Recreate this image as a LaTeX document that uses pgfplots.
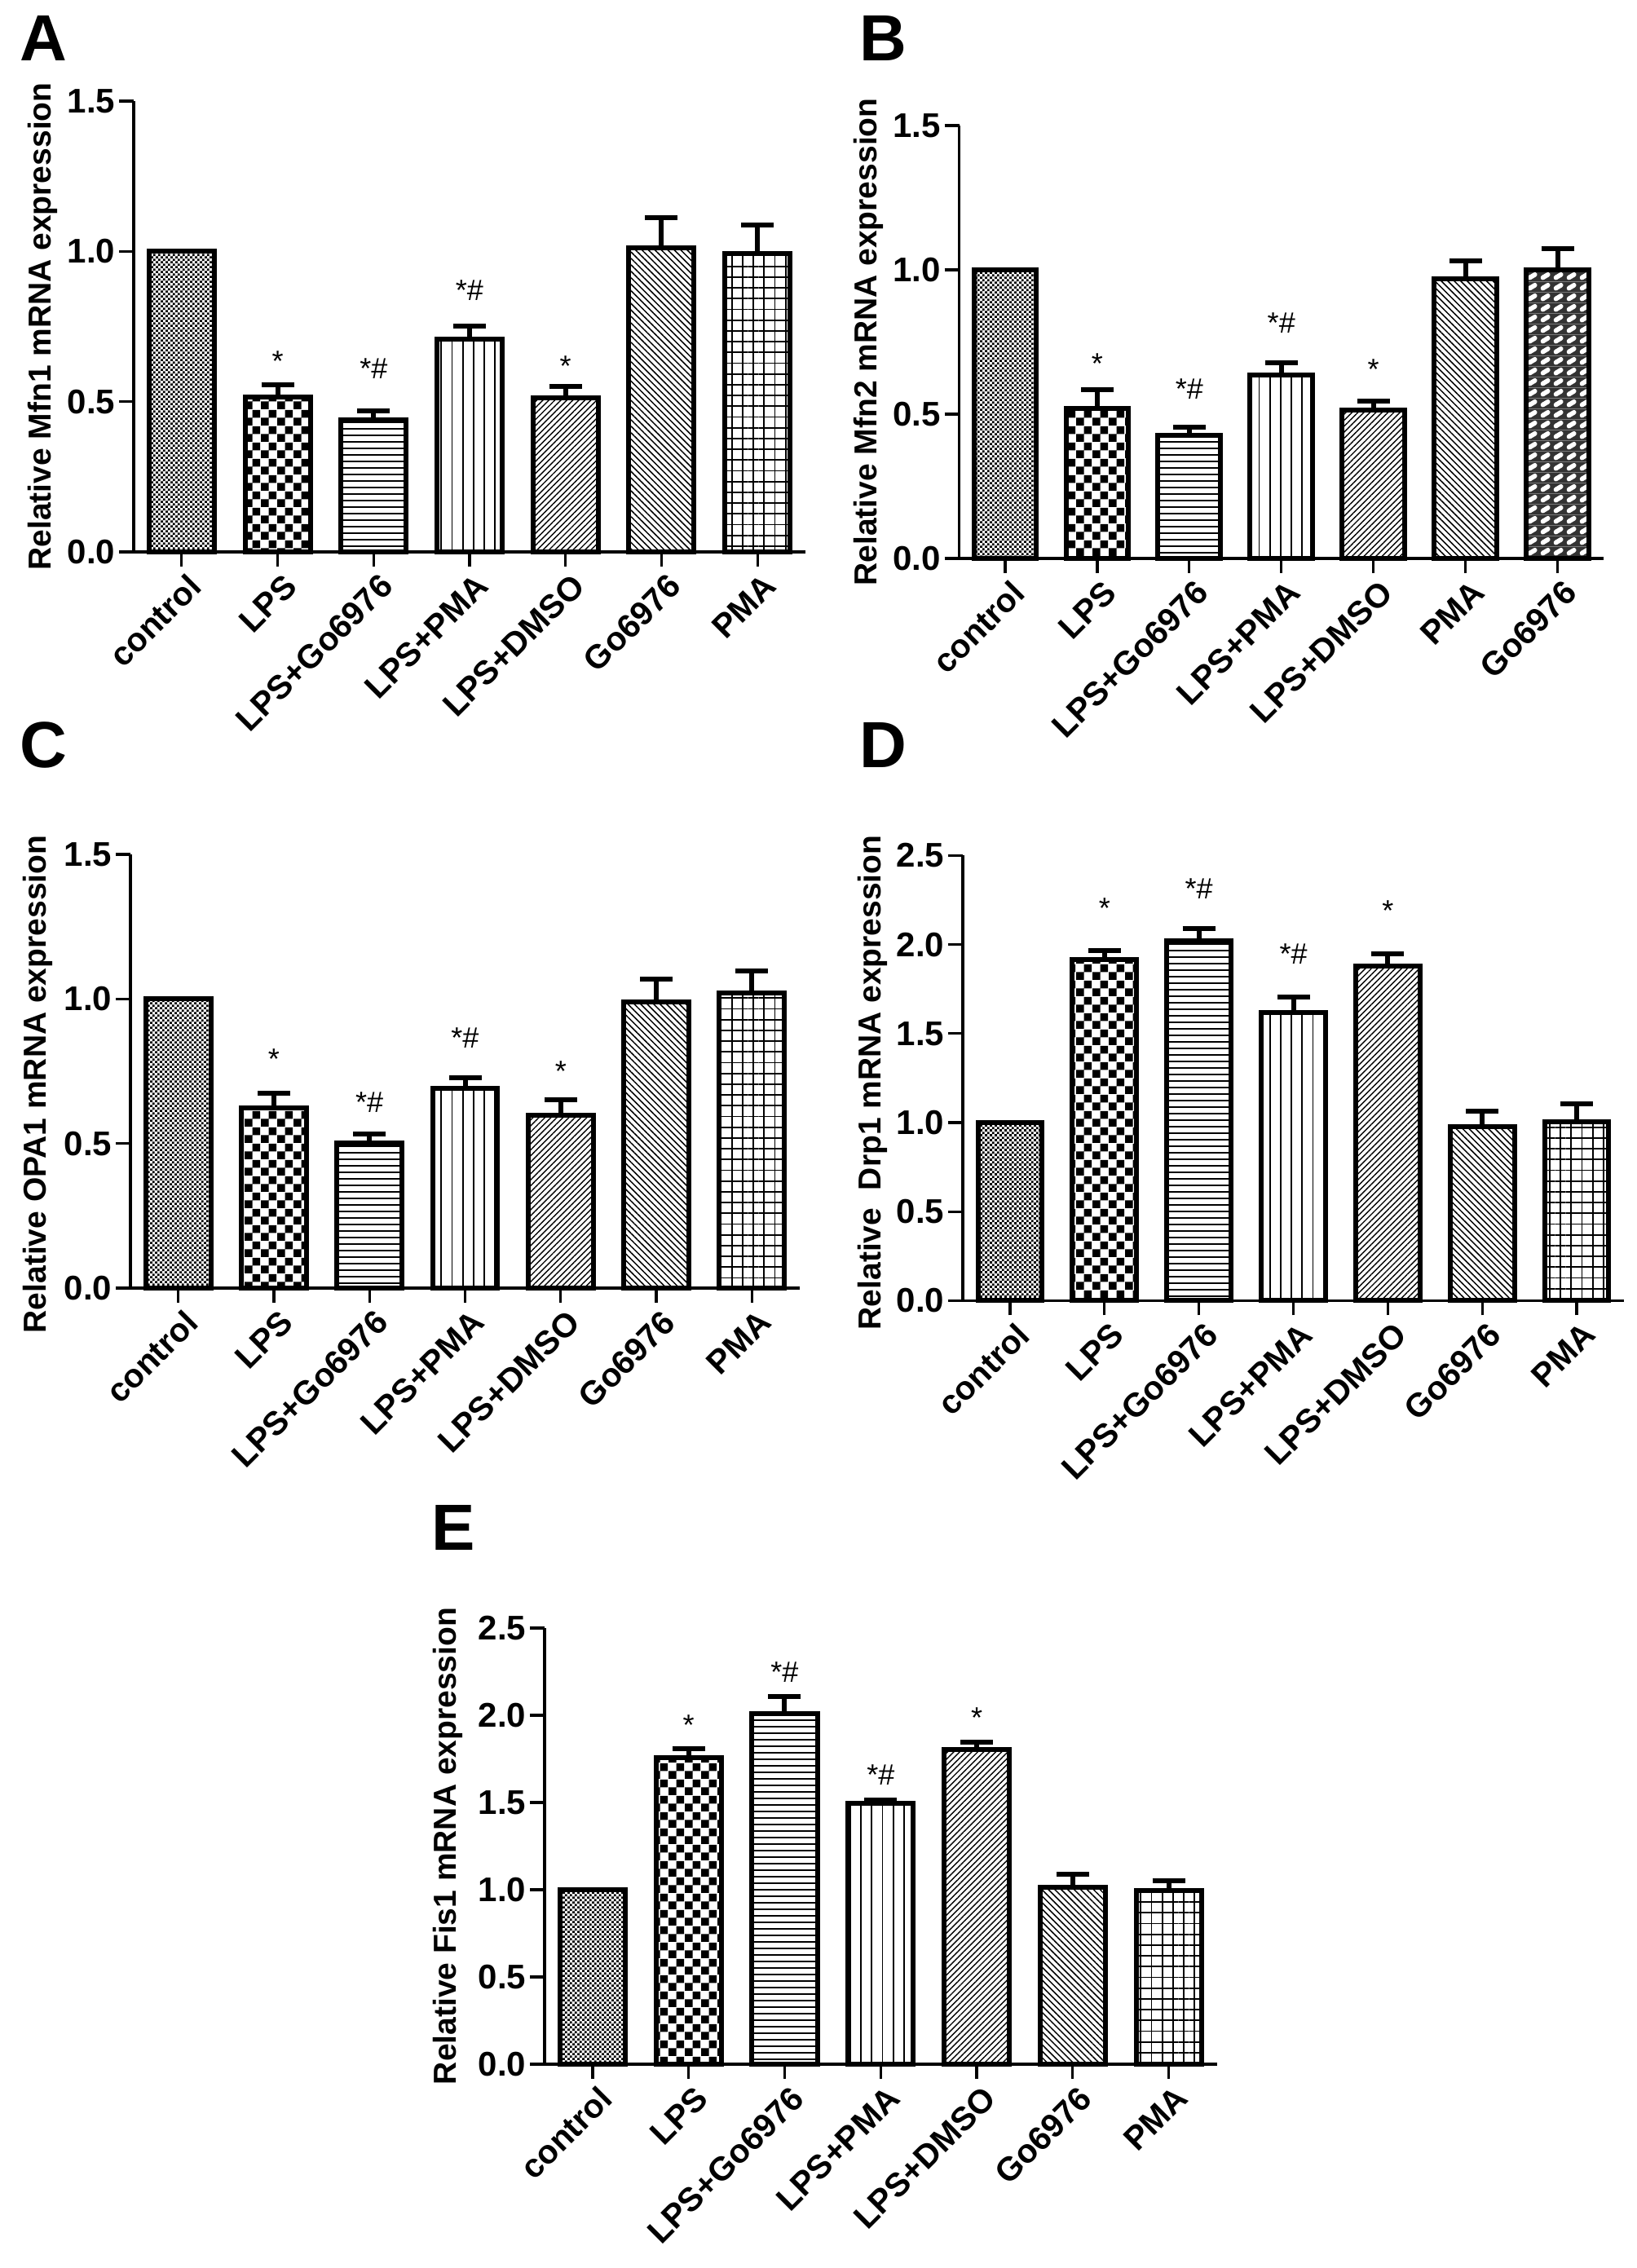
\documentclass[border=0pt]{standalone}
\usepackage{fontspec}
\setmainfont{Liberation Sans}
\usepackage{pgfplots}
\pgfplotsset{compat=1.18}
\usetikzlibrary{patterns,patterns.meta}

\pgfdeclarepatternformonly{finechecker}{\pgfqpoint{0pt}{0pt}}{\pgfqpoint{1.6pt}{1.6pt}}{\pgfqpoint{1.6pt}{1.6pt}}{%
  \pgfpathrectangle{\pgfqpoint{0pt}{0pt}}{\pgfqpoint{0.75pt}{0.75pt}}%
  \pgfpathrectangle{\pgfqpoint{0.8pt}{0.8pt}}{\pgfqpoint{0.75pt}{0.75pt}}%
  \pgfusepath{fill}}
\pgfdeclarepatternformonly{bigchecker}{\pgfqpoint{0pt}{0pt}}{\pgfqpoint{5pt}{5pt}}{\pgfqpoint{5pt}{5pt}}{%
  \pgfpathrectangle{\pgfqpoint{0pt}{0pt}}{\pgfqpoint{2.5pt}{2.5pt}}%
  \pgfpathrectangle{\pgfqpoint{2.5pt}{2.5pt}}{\pgfqpoint{2.5pt}{2.5pt}}%
  \pgfusepath{fill}}
\pgfdeclarepatterninherentlycolored{ovaldash}{\pgfqpoint{0pt}{0pt}}{\pgfqpoint{4pt}{3.2pt}}{\pgfqpoint{4pt}{3.2pt}}{%
  \pgfsetfillcolor{black!80}%
  \pgfpathrectangle{\pgfqpoint{0pt}{0pt}}{\pgfqpoint{4pt}{3.2pt}}\pgfusepath{fill}%
  \pgfsetstrokecolor{white}\pgfsetlinewidth{1.45pt}\pgfsetroundcap
  \pgfpathmoveto{\pgfqpoint{1.17pt}{1.12pt}}\pgfpathlineto{\pgfqpoint{2.83pt}{2.08pt}}\pgfusepath{stroke}}

\tikzset{
  anno/.style={font=\fontsize{9}{10}\selectfont, anchor=base, inner sep=0pt},
  plab/.style={font=\bfseries\fontsize{20}{22}\selectfont, anchor=center},
}
\pgfplotsset{
  panel/.style={
    scale only axis, clip=false,
    axis x line*=bottom, axis y line*=left,
    xmin=-0.5, xmax=6.5, ymin=0,
    xtick={0,...,6},
    tick align=outside, major tick length=4.5pt,
    every tick/.style={black, line width=0.8pt},
    axis line style={line width=0.8pt, black},
    xticklabel style={font=\bfseries\fontsize{10.2}{12}\selectfont, rotate=45, anchor=north east, inner sep=0.5pt, yshift=-1.5pt, xshift=0.5pt},
    yticklabel style={font=\bfseries\fontsize{10.5}{12}\selectfont, inner sep=1pt,
      /pgf/number format/.cd, fixed, fixed zerofill, precision=1, assume math mode=true},
    ylabel style={font=\bfseries\fontsize{9.75}{11}\selectfont, anchor=center},
  },
  pat0/.style={pattern=finechecker},
  pat1/.style={pattern=bigchecker},
  pat2/.style={pattern={Lines[angle=0,distance=2pt,line width=0.4pt]}},
  pat3/.style={pattern={Lines[angle=90,distance=3.3pt,line width=0.45pt]}},
  pat4/.style={pattern={Lines[angle=45,distance=1.3pt,line width=0.35pt]}},
  pat5/.style={pattern={Lines[angle=-45,distance=1.4pt,line width=0.38pt]}},
  pat6/.style={pattern={Hatch[angle=0,distance=3.3pt,line width=0.45pt]}},
  pat7/.style={pattern=ovaldash},
}
\newcommand{\ebar}[4]{\addplot[ybar, bar width=0.68, bar shift=0pt, draw=black, line width=1.5pt, #1,
   error bars/.cd, y dir=plus, y explicit, error bar style={line width=1.5pt},
   error mark options={rotate=90, mark size=5pt, line width=1.5pt}] coordinates {(#2,#3) +- (0,#4)};}
\newcommand{\cbar}[2]{\addplot[ybar, bar width=0.68, bar shift=0pt, draw=black, line width=1.5pt, #1] coordinates {(0,#2)};}

\begin{document}
\begin{tikzpicture}
\useasboundingbox (0,0) rectangle (502pt,-695.5pt);

\node[plab] at (13.25pt,-11.75pt) {A};
\node[plab] at (270.75pt,-11.75pt) {B};
\node[plab] at (13.25pt,-228.5pt) {C};
\node[plab] at (270.75pt,-228.5pt) {D};
\node[plab] at (139pt,-468.5pt) {E};

% ---------- A ----------
\begin{axis}[panel, at={(41pt,-169.25pt)}, anchor=south west, width=206pt, height=138.25pt,
  ymax=1.5, ytick={0,0.5,1,1.5},
  xticklabels={control,LPS,LPS+Go6976,LPS+PMA,LPS+DMSO,Go6976,PMA},
  ylabel={Relative Mfn1 mRNA expression},
  ylabel style={at={(axis description cs:-0.135,0.5)}}]
\cbar{pat0}{1.0}
\ebar{pat1}{1}{0.515}{0.040}
\ebar{pat2}{2}{0.440}{0.030}
\ebar{pat3}{3}{0.707}{0.044}
\ebar{pat4}{4}{0.512}{0.038}
\ebar{pat5}{5}{1.013}{0.100}
\ebar{pat6}{6}{0.994}{0.093}
\node[anno] at (axis cs:1,0.602) {*};
\node[anno] at (axis cs:2,0.577) {*\#};
\node[anno] at (axis cs:3,0.837) {*\#};
\node[anno] at (axis cs:4,0.585) {*};
\end{axis}

% ---------- B ----------
\begin{axis}[panel, at={(294.125pt,-171.25pt)}, anchor=south west, width=197.625pt, height=132.75pt,
  ymax=1.5, ytick={0,0.5,1,1.5},
  xticklabels={control,LPS,LPS+Go6976,LPS+PMA,LPS+DMSO,PMA,Go6976},
  ylabel={Relative Mfn2 mRNA expression},
  ylabel style={at={(axis description cs:-0.14,0.5)}}]
\cbar{pat0}{1.0}
\ebar{pat1}{1}{0.521}{0.064}
\ebar{pat2}{2}{0.427}{0.029}
\ebar{pat3}{3}{0.635}{0.043}
\ebar{pat4}{4}{0.513}{0.033}
\ebar{pat5}{5}{0.969}{0.063}
\ebar{pat7}{6}{1.000}{0.074}
\node[anno] at (axis cs:1,0.641) {*};
\node[anno] at (axis cs:2,0.551) {*\#};
\node[anno] at (axis cs:3,0.780) {*\#};
\node[anno] at (axis cs:4,0.620) {*};
\end{axis}

% ---------- C ----------
\begin{axis}[panel, at={(40pt,-395pt)}, anchor=south west, width=205.25pt, height=133pt,
  ymax=1.5, ytick={0,0.5,1,1.5},
  xticklabels={control,LPS,LPS+Go6976,LPS+PMA,LPS+DMSO,Go6976,PMA},
  ylabel={Relative OPA1 mRNA expression},
  ylabel style={at={(axis description cs:-0.138,0.47)}}]
\cbar{pat0}{1.0}
\ebar{pat1}{1}{0.624}{0.049}
\ebar{pat2}{2}{0.503}{0.031}
\ebar{pat3}{3}{0.690}{0.038}
\ebar{pat4}{4}{0.598}{0.052}
\ebar{pat5}{5}{0.991}{0.079}
\ebar{pat6}{6}{1.020}{0.077}
\node[anno] at (axis cs:1,0.758) {*};
\node[anno] at (axis cs:2,0.608) {*\#};
\node[anno] at (axis cs:3,0.830) {*\#};
\node[anno] at (axis cs:4,0.715) {*};
\end{axis}

% ---------- D ----------
\begin{axis}[panel, at={(295.25pt,-398.85pt)}, anchor=south west, width=202.75pt, height=136.5pt,
  ymax=2.5, ytick={0,0.5,1,1.5,2,2.5},
  xticklabels={control,LPS,LPS+Go6976,LPS+PMA,LPS+DMSO,Go6976,PMA},
  ylabel={Relative~ Drp1 mRNA expression},
  ylabel style={at={(axis description cs:-0.136,0.49)}}]
\cbar{pat0}{1.0}
\ebar{pat1}{1}{1.916}{0.050}
\ebar{pat2}{2}{2.021}{0.069}
\ebar{pat3}{3}{1.620}{0.085}
\ebar{pat4}{4}{1.879}{0.071}
\ebar{pat5}{5}{0.978}{0.084}
\ebar{pat6}{6}{1.006}{0.099}
\node[anno] at (axis cs:1,2.149) {*};
\node[anno] at (axis cs:2,2.255) {*\#};
\node[anno] at (axis cs:3,1.889) {*\#};
\node[anno] at (axis cs:4,2.135) {*};
\end{axis}

% ---------- E ----------
\begin{axis}[panel, at={(167pt,-633pt)}, anchor=south west, width=206.125pt, height=133.75pt,
  ymax=2.5, ytick={0,0.5,1,1.5,2,2.5},
  xticklabels={control,LPS,LPS+Go6976,LPS+PMA,LPS+DMSO,Go6976,PMA},
  ylabel={Relative Fis1 mRNA expression},
  ylabel style={at={(axis description cs:-0.144,0.5)}}]
\cbar{pat0}{1.0}
\ebar{pat1}{1}{1.756}{0.054}
\ebar{pat2}{2}{2.009}{0.097}
\ebar{pat3}{3}{1.494}{0.021}
\ebar{pat4}{4}{1.806}{0.041}
\ebar{pat5}{5}{1.014}{0.076}
\ebar{pat6}{6}{0.994}{0.059}
\node[anno] at (axis cs:1,1.886) {*};
\node[anno] at (axis cs:2,2.188) {*\#};
\node[anno] at (axis cs:3,1.600) {*\#};
\node[anno] at (axis cs:4,1.930) {*};
\end{axis}
\end{tikzpicture}
\end{document}
